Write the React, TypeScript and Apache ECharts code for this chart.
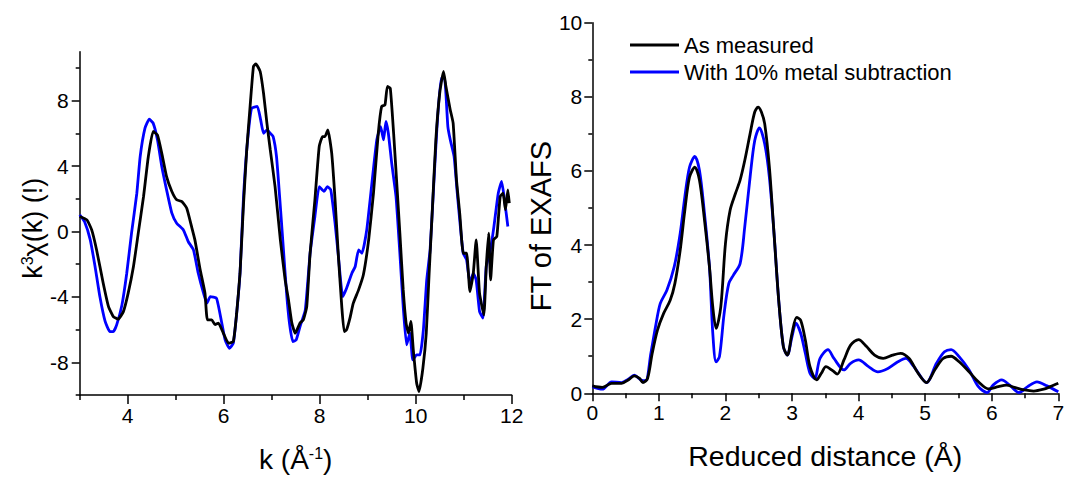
import React, { useEffect, useRef } from "react";
import * as echarts from "echarts";

// ---- Left panel: k^3 chi(k) ----
const kMeasured = [3.0, 3.15, 3.25, 3.35, 3.49, 3.6, 3.7, 3.8, 3.91, 4.01, 4.12, 4.22, 4.33, 4.43, 4.53, 4.62, 4.71, 4.81, 4.92, 5.02, 5.13, 5.23, 5.33, 5.4, 5.51, 5.61, 5.66, 5.75, 5.82, 5.89, 5.99, 6.1, 6.2, 6.27, 6.34, 6.41, 6.48, 6.55, 6.62, 6.67, 6.76, 6.83, 6.9, 6.97, 7.07, 7.18, 7.28, 7.35, 7.42, 7.49, 7.59, 7.66, 7.73, 7.8, 7.9, 7.99, 8.06, 8.11, 8.17, 8.25, 8.32, 8.39, 8.46, 8.51, 8.56, 8.63, 8.7, 8.81, 8.91, 9.02, 9.12, 9.22, 9.29, 9.36, 9.41, 9.47, 9.54, 9.61, 9.67, 9.74, 9.8, 9.85, 9.9, 9.95, 10.02, 10.07, 10.15, 10.22, 10.28, 10.35, 10.42, 10.5, 10.58, 10.63, 10.72, 10.78, 10.85, 10.92, 10.99, 11.06, 11.13, 11.2, 11.26, 11.33, 11.42, 11.47, 11.52, 11.56, 11.62, 11.69, 11.76, 11.82, 11.87, 11.92, 11.95];
const chiMeasured = [0.92, 0.71, 0.1, -1.1, -3.16, -4.59, -5.2, -5.36, -4.9, -3.77, -2.14, -0.1, 2.14, 4.59, 6.12, 5.9, 4.79, 3.36, 2.45, 1.94, 1.83, 1.43, 0.31, -0.51, -2.34, -3.77, -5.4, -5.4, -5.7, -5.6, -6.2, -6.83, -6.73, -5.0, -2.55, 1.53, 5.0, 7.65, 10.1, 10.25, 9.79, 8.46, 6.63, 5.0, 2.75, -0.51, -2.96, -4.18, -5.6, -6.22, -5.6, -5.4, -4.59, -1.33, 1.94, 5.2, 5.81, 5.81, 6.22, 4.79, 1.94, -1.53, -4.59, -6.12, -6.01, -5.3, -4.38, -3.57, -2.65, -0.51, 2.34, 6.01, 7.65, 7.75, 8.87, 8.77, 6.01, 2.75, -0.1, -3.57, -5.6, -6.22, -5.5, -7.24, -9.28, -9.79, -8.36, -6.22, -2.55, 1.53, 5.61, 8.46, 9.79, 8.87, 7.44, 6.63, 3.16, 1.02, -1.33, -1.33, -3.67, -2.55, -0.51, -3.77, -5.1, -2.14, -0.1, -2.96, -0.51, -0.31, 2.14, 2.34, 1.33, 2.55, 1.73];

const kSubtracted = [3.0, 3.1, 3.22, 3.32, 3.42, 3.53, 3.63, 3.7, 3.77, 3.88, 3.98, 4.08, 4.19, 4.26, 4.36, 4.45, 4.53, 4.62, 4.71, 4.81, 4.92, 5.02, 5.16, 5.26, 5.37, 5.47, 5.58, 5.65, 5.72, 5.85, 5.96, 6.03, 6.12, 6.2, 6.27, 6.34, 6.41, 6.48, 6.58, 6.7, 6.77, 6.83, 6.9, 6.97, 7.03, 7.1, 7.17, 7.24, 7.31, 7.37, 7.44, 7.51, 7.59, 7.7, 7.8, 7.9, 7.99, 8.09, 8.16, 8.23, 8.32, 8.39, 8.48, 8.56, 8.67, 8.74, 8.81, 8.88, 8.98, 9.08, 9.19, 9.27, 9.33, 9.38, 9.43, 9.5, 9.59, 9.67, 9.74, 9.81, 9.88, 9.94, 10.02, 10.09, 10.16, 10.23, 10.3, 10.37, 10.44, 10.53, 10.6, 10.67, 10.72, 10.8, 10.86, 10.93, 10.99, 11.06, 11.13, 11.2, 11.26, 11.33, 11.4, 11.47, 11.54, 11.59, 11.63, 11.72, 11.79, 11.85, 11.92];
const chiSubtracted = [1.02, 0.61, -0.51, -2.14, -3.98, -5.5, -6.12, -6.12, -5.71, -4.49, -2.55, -0.1, 2.34, 4.59, 6.32, 6.87, 6.63, 5.61, 3.98, 2.55, 1.12, 0.51, 0.1, -0.61, -1.12, -2.55, -3.77, -4.38, -3.98, -4.08, -5.6, -6.63, -7.14, -6.83, -5.0, -2.55, 1.94, 5.0, 7.54, 7.65, 6.83, 6.01, 6.22, 6.01, 5.81, 4.59, 1.94, -0.92, -3.77, -5.6, -6.73, -6.63, -5.81, -4.79, -1.33, 0.92, 2.75, 2.45, 2.75, 2.55, 0.51, -1.53, -3.98, -3.47, -2.55, -2.14, -1.12, -1.33, 0.1, 2.75, 5.61, 6.42, 5.61, 6.73, 6.01, 4.18, 2.14, -1.33, -4.59, -6.93, -6.22, -7.85, -7.54, -7.54, -6.01, -2.96, -1.12, 2.55, 6.22, 9.38, 9.38, 6.42, 5.61, 4.59, 2.55, 0.31, -1.33, -1.73, -3.16, -2.55, -2.96, -4.89, -5.3, -2.14, -1.33, -0.51, 0.31, 2.34, 3.06, 1.94, 0.31];

// ---- Right panel: FT of EXAFS ----
const rMeasured = [0, 0.15, 0.29, 0.44, 0.54, 0.63, 0.71, 0.76, 0.83, 0.9, 0.98, 1.07, 1.17, 1.24, 1.32, 1.39, 1.46, 1.54, 1.61, 1.68, 1.76, 1.81, 1.86, 1.93, 2.0, 2.07, 2.15, 2.22, 2.29, 2.37, 2.44, 2.49, 2.54, 2.59, 2.66, 2.73, 2.8, 2.87, 2.93, 3.0, 3.07, 3.13, 3.2, 3.27, 3.37, 3.44, 3.51, 3.61, 3.68, 3.78, 3.88, 4.0, 4.12, 4.24, 4.37, 4.51, 4.63, 4.76, 4.88, 5.02, 5.15, 5.27, 5.39, 5.51, 5.66, 5.8, 5.95, 6.1, 6.22, 6.34, 6.49, 6.63, 6.78, 6.88, 7.0];
const ftMeasured = [0.2, 0.16, 0.27, 0.27, 0.36, 0.47, 0.4, 0.29, 0.4, 1.08, 1.71, 2.15, 2.51, 2.96, 3.86, 4.94, 5.83, 6.1, 5.75, 4.76, 3.41, 2.33, 1.75, 2.33, 4.04, 4.94, 5.39, 5.75, 6.28, 7.0, 7.59, 7.72, 7.59, 7.27, 6.1, 4.31, 2.51, 1.26, 1.03, 1.62, 2.05, 1.97, 1.44, 0.72, 0.36, 0.54, 0.72, 0.61, 0.52, 0.9, 1.3, 1.45, 1.26, 1.03, 0.94, 1.03, 1.08, 0.94, 0.58, 0.29, 0.65, 0.94, 1.0, 0.85, 0.58, 0.31, 0.12, 0.18, 0.22, 0.16, 0.09, 0.06, 0.11, 0.18, 0.27];

const rSubtracted = [0, 0.15, 0.29, 0.44, 0.54, 0.63, 0.73, 0.8, 0.88, 0.95, 1.02, 1.12, 1.23, 1.32, 1.39, 1.46, 1.54, 1.61, 1.68, 1.76, 1.81, 1.86, 1.91, 1.98, 2.05, 2.12, 2.22, 2.29, 2.37, 2.44, 2.51, 2.59, 2.66, 2.73, 2.8, 2.87, 2.93, 3.0, 3.06, 3.13, 3.2, 3.27, 3.34, 3.42, 3.54, 3.63, 3.78, 3.88, 4.0, 4.15, 4.29, 4.44, 4.59, 4.71, 4.83, 5.02, 5.17, 5.29, 5.39, 5.51, 5.66, 5.8, 5.93, 6.02, 6.15, 6.27, 6.41, 6.54, 6.68, 6.83, 7.0];
const ftSubtracted = [0.18, 0.11, 0.31, 0.29, 0.38, 0.49, 0.36, 0.34, 1.08, 1.8, 2.42, 2.78, 3.41, 4.31, 5.3, 6.1, 6.39, 6.01, 4.94, 3.41, 1.62, 0.85, 0.99, 2.15, 2.96, 3.19, 3.5, 4.49, 5.83, 6.82, 7.16, 6.73, 5.83, 4.31, 2.51, 1.26, 1.03, 1.53, 1.89, 1.62, 1.08, 0.54, 0.4, 0.94, 1.18, 0.94, 0.63, 0.81, 0.9, 0.72, 0.58, 0.67, 0.85, 0.94, 0.72, 0.29, 0.81, 1.12, 1.18, 0.99, 0.63, 0.18, 0.02, 0.22, 0.36, 0.22, 0.02, 0.18, 0.31, 0.2, 0.04];

const leftXLabels = [4, 6, 8, 10, 12];
const leftXMinor = [3, 5, 7, 9, 11];
const leftYLabels = [-8, -4, 0, 4, 8];
const leftYMinor = [-10, -6, -2, 2, 6, 10];

const seriesNames = ["As measured", "With 10% metal subtraction"];

const FONT = "'Liberation Sans', Arial, Helvetica, sans-serif";
const BLUE = "#0000ff";
const BLACK = "#000000";

export default function App() {
  const ref = useRef<HTMLDivElement>(null);
  useEffect(() => {
    if (!ref.current) return;
    const chart = echarts.init(ref.current, undefined, { renderer: "svg" });
    const axisLine = { show: true, onZero: false, lineStyle: { color: BLACK, width: 1.5 } };
    const noLine = { show: false, onZero: false };
    const tickLine = { color: BLACK, width: 1.5 };
    const labelStyle = { color: BLACK, fontSize: 21, fontFamily: FONT };
    const makeName = (size: number, extra: any = {}) => ({
      color: BLACK,
      fontSize: size,
      fontFamily: FONT,
      ...extra,
      rich: {
        sup: { fontSize: 16, fontFamily: FONT, color: BLACK, verticalAlign: "top" as const, lineHeight: size },
      },
    });
    const lineW = 2.8;
    const option: any = {
      animation: false,
      backgroundColor: "#ffffff",
      textStyle: { fontFamily: FONT },
      grid: [
        { left: 79.7, right: 566.3, top: 51.7, bottom: 83, containLabel: false },
        { left: 592.3, right: 19.7, top: 22.7, bottom: 84.7, containLabel: false },
      ],
      legend: {
        data: seriesNames,
        orient: "vertical",
        left: 625,
        top: 29,
        icon: "rect",
        itemWidth: 49,
        itemHeight: 3,
        itemGap: 5,
        textStyle: { color: BLACK, fontSize: 22, fontFamily: FONT, padding: [0, 0, 0, 0] },
      },
      xAxis: [
        {
          type: "value",
          gridIndex: 0,
          min: 3,
          max: 12,
          position: "bottom",
          axisLine,
          axisTick: { show: true, customValues: leftXLabels, length: 9, lineStyle: tickLine },
          axisLabel: { ...labelStyle, customValues: leftXLabels, margin: 10 },
          splitLine: { show: false },
          name: "k (Å{sup|-1})",
          nameLocation: "middle",
          nameGap: 50,
          nameTextStyle: makeName(28),
        },
        {
          type: "value",
          gridIndex: 0,
          min: 3,
          max: 12,
          position: "bottom",
          axisLine: noLine,
          axisTick: { show: true, customValues: leftXMinor, length: 5, lineStyle: tickLine },
          axisLabel: { show: false },
          splitLine: { show: false },
        },
        {
          type: "value",
          gridIndex: 1,
          min: 0,
          max: 7,
          interval: 1,
          position: "bottom",
          axisLine,
          axisTick: { show: true, length: 8, lineStyle: tickLine },
          minorTick: { show: true, splitNumber: 2, length: 5, lineStyle: tickLine },
          axisLabel: { ...labelStyle, margin: 9 },
          splitLine: { show: false },
          name: "Reduced distance (Å)",
          nameLocation: "middle",
          nameGap: 48,
          nameTextStyle: makeName(28.5),
        },
      ],
      yAxis: [
        {
          type: "value",
          gridIndex: 0,
          min: -10,
          max: 11,
          position: "left",
          axisLine,
          axisTick: { show: true, customValues: leftYLabels, length: 8, lineStyle: tickLine },
          axisLabel: { ...labelStyle, customValues: leftYLabels, margin: 11 },
          splitLine: { show: false },
          name: "k{sup|3}χ(k) (!)",
          nameLocation: "middle",
          nameGap: 33,
          nameTextStyle: makeName(27, { padding: [0, 10, 0, 0] }),
        },
        {
          type: "value",
          gridIndex: 0,
          min: -10,
          max: 11,
          position: "left",
          axisLine: noLine,
          axisTick: { show: true, customValues: leftYMinor, length: 4, lineStyle: tickLine },
          axisLabel: { show: false },
          splitLine: { show: false },
        },
        {
          type: "value",
          gridIndex: 1,
          min: 0,
          max: 10,
          interval: 2,
          position: "left",
          axisLine,
          axisTick: { show: true, length: 8, lineStyle: tickLine },
          minorTick: { show: true, splitNumber: 2, length: 4, lineStyle: tickLine },
          axisLabel: { ...labelStyle, margin: 10 },
          splitLine: { show: false },
          name: "FT of EXAFS",
          nameLocation: "middle",
          nameGap: 26,
          nameTextStyle: makeName(29, { padding: [0, 36, 0, 0] }),
        },
      ],
      series: [
        {
          name: seriesNames[1],
          type: "line",
          xAxisIndex: 0,
          yAxisIndex: 0,
          symbol: "none",
          smooth: 0.15,
          lineStyle: { color: BLUE, width: lineW },
          itemStyle: { color: BLUE },
          data: kSubtracted.map((k, i) => [k, chiSubtracted[i]]),
        },
        {
          name: seriesNames[0],
          type: "line",
          xAxisIndex: 0,
          yAxisIndex: 0,
          symbol: "none",
          smooth: 0.15,
          lineStyle: { color: BLACK, width: lineW },
          itemStyle: { color: BLACK },
          data: kMeasured.map((k, i) => [k, chiMeasured[i]]),
        },
        {
          name: seriesNames[1],
          type: "line",
          xAxisIndex: 2,
          yAxisIndex: 2,
          symbol: "none",
          smooth: 0.3,
          lineStyle: { color: BLUE, width: lineW },
          itemStyle: { color: BLUE },
          data: rSubtracted.map((r, i) => [r, ftSubtracted[i]]),
        },
        {
          name: seriesNames[0],
          type: "line",
          xAxisIndex: 2,
          yAxisIndex: 2,
          symbol: "none",
          smooth: 0.3,
          lineStyle: { color: BLACK, width: lineW },
          itemStyle: { color: BLACK },
          data: rMeasured.map((r, i) => [r, ftMeasured[i]]),
        },
      ],
    };
    chart.setOption(option);
    return () => chart.dispose();
  }, []);
  return (
    <div
      ref={ref}
      style={{ position: "fixed", left: 0, top: 0, width: 1078, height: 478, background: "#fff" }}
    />
  );
}
